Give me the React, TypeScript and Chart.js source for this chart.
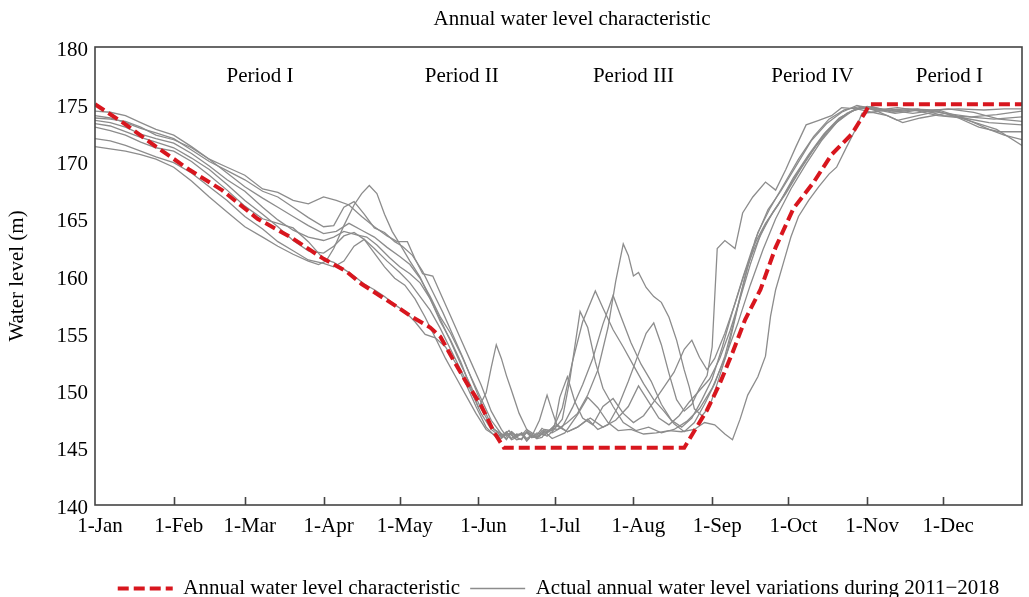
import React, { useEffect, useRef } from "react";
import { Chart, registerables } from "chart.js";

Chart.register(...registerables);

// ---------- data ----------
const monthDays = [0, 31, 59, 90, 120, 151, 181, 212, 243, 273, 304, 334];
const monthLabels = ["1-Jan", "1-Feb", "1-Mar", "1-Apr", "1-May", "1-Jun", "1-Jul", "1-Aug", "1-Sep", "1-Oct", "1-Nov", "1-Dec"];
const periodNames = ["Period I", "Period II", "Period III", "Period IV", "Period I"];
const periodDays = [65, 144.4, 212, 282.5, 336.4];
const periodLevel = 177.4;
const chartTitle = "Annual water level characteristic";
const yAxisTitle = "Water level (m)";
const legendLabels = ["Annual water level characteristic", "Actual annual water level variations during 2011\u22122018"];

const characteristic: number[][] = [
  [0, 175], [11, 173.4], [24, 171.3], [37, 169.3], [50, 167.5], [64, 165], [77, 163.4], [90, 161.5], [99, 160.4],
  [105, 159.3], [112, 158.3], [119, 157.3], [125, 156.4], [132, 155.5], [136, 154.7], [141, 152.7], [146, 150.8],
  [152, 148.7], [157, 146.4], [161, 145], [232, 145], [241, 148.3], [246, 150.6], [251, 153.3], [256, 156.2],
  [262, 158.8], [268, 162.5], [275, 165.9], [283, 168.2], [290, 170.6], [298, 172.4], [303, 174.2], [305, 175], [365, 175],
];

const y2011: number[][] = [
  [0, 174.4], [6, 174.3], [12, 174.0], [18, 173.4], [24, 172.8], [31, 172.3], [38, 171.3], [45, 170.2], [52, 169.5], [59, 168.8],
  [66, 167.6], [72, 167.3], [78, 166.6], [84, 166.3], [90, 166.9], [95, 166.6], [100, 166.2], [105, 165.2], [110, 164.3], [115, 163.5],
  [119, 163.0], [123, 163.0], [126, 161.5], [129, 160.2], [133, 160.0], [136, 158.5], [140, 156.5], [144, 154.5], [148, 152.5],
  [152, 150.5], [156, 148.2], [160, 146.6], [162, 146.0], [164, 146.4], [166, 146.0], [168, 146.3], [170, 145.8], [172, 146.1],
  [174, 145.8], [176, 146.3], [178, 146.0], [180, 146.4], [184, 147.5],
  [187, 151], [191, 156.9], [194, 155.5], [197, 152.5], [200, 150.2], [204, 148.6], [208, 147.2], [213, 146.5], [218, 146.8],
  [223, 146.3], [228, 146.6], [233, 147.3], [238, 148.4], [243, 150.2], [248, 152.8], [253, 155.8], [258, 159.2], [263, 162.3],
  [268, 165], [274, 167.6], [280, 169.8], [286, 171.8], [292, 173.4], [298, 174.4], [304, 174.8], [312, 174.5], [320, 174.6],
  [330, 174.5], [340, 174.6], [350, 174.5], [358, 174.6], [365, 174.6],
];

const y2012: number[][] = [
  [0, 174.0], [6, 173.8], [12, 173.4], [18, 172.9], [24, 172.5], [31, 172.0], [38, 171.0], [45, 170.0], [52, 169.2], [59, 168.4],
  [66, 167.4], [72, 166.9], [78, 166.0], [84, 165.1], [90, 164.3], [94, 164.4], [98, 166.0], [102, 166.5], [106, 165.4], [110, 164.2],
  [114, 163.8], [118, 163.0], [121, 162.6], [125, 161.8], [129, 160.4], [133, 158.6], [137, 156.8], [141, 154.8], [145, 152.8],
  [149, 150.6], [153, 148.4], [157, 146.6], [161, 146.1], [163, 146.5], [165, 145.9], [167, 146.2], [170, 146.3], [172, 145.9],
  [175, 146.0], [177, 146.6], [180, 146.5], [184, 148.5],
  [188, 152.5], [192, 156], [197, 158.7], [200, 157.2], [204, 155.3], [208, 153.8], [212, 152.2], [216, 150.6], [220, 149.2],
  [224, 148.2], [228, 147.1], [232, 146.4], [236, 147.2], [240, 148.8], [244, 150.6], [248, 153.0], [252, 156.4], [256, 160.0],
  [260, 163.2], [265, 165.8], [270, 167.4], [276, 169.6], [282, 171.8], [288, 173.3], [294, 174.3], [300, 174.9], [306, 174.6],
  [315, 174.2], [325, 174.5], [335, 174.2], [345, 173.9], [355, 174.1], [365, 174.4],
];

const y2013: number[][] = [
  [0, 173.8], [6, 173.7], [12, 173.5], [18, 173.0], [24, 172.3], [31, 171.9], [38, 171.2], [45, 170.2], [52, 169.0], [59, 167.8],
  [66, 166.8], [72, 166.0], [78, 165.2], [84, 164.4], [90, 163.7], [95, 163.9], [100, 164.6], [105, 164.0], [110, 163.4], [115, 162.5],
  [120, 161.7], [124, 161.0], [128, 159.8], [132, 158.2], [136, 156.4], [140, 155.0], [144, 153.2], [148, 151.2], [152, 149.3],
  [156, 147.4], [160, 146.2], [162, 145.8], [164, 146.3], [166, 145.9], [168, 145.7], [170, 146.4], [172, 146.2], [174, 145.8],
  [176, 145.9], [178, 146.5], [180, 146.3], [184, 146.8], [188, 148.5],
  [192, 150.5], [196, 152.8], [200, 155.8], [204, 158.3], [207, 156.5], [211, 154.2], [215, 152.3], [219, 150.8], [223, 148.8],
  [227, 147.4], [231, 146.8], [235, 147.6], [239, 149.2], [243, 151.0], [247, 153.8], [251, 156.9], [255, 159.8], [259, 162.5],
  [264, 164.6], [269, 166.2], [275, 168.6], [281, 170.6], [287, 172.4], [293, 173.8], [299, 174.5], [305, 174.7], [314, 174.4],
  [324, 174.6], [334, 174.0], [344, 173.9], [354, 173.7], [365, 173.9],
];

const y2014: number[][] = [
  [0, 173.6], [6, 173.4], [12, 173.0], [18, 172.4], [24, 172.0], [31, 171.6], [38, 170.7], [45, 169.6], [52, 168.4], [59, 167.4],
  [66, 166.0], [72, 164.9], [78, 164.0], [84, 163.4], [90, 163.1], [94, 163.4], [98, 163.9], [103, 163.6], [107, 163.4], [111, 162.7],
  [116, 161.6], [120, 160.8], [124, 160.2], [128, 159.4], [132, 158.0], [136, 156.2], [140, 154.3], [144, 152.3], [148, 150.4],
  [152, 148.4], [156, 146.9], [160, 146.0], [162, 146.4], [164, 145.8], [166, 146.2], [168, 146.1], [170, 146.6], [172, 145.9],
  [174, 146.3], [177, 146.1], [180, 146.7], [182, 146.6], [186, 147.2],
  [190, 148.0], [194, 149.6], [198, 151.8], [202, 155.5], [205, 159.5], [208, 162.8], [210, 161.8], [212, 160.0], [214, 160.3],
  [217, 159.0], [220, 158.2], [223, 157.7], [226, 156.4], [229, 154.4], [232, 151.8], [234, 150.3], [236, 148.4], [239, 147.8],
  [242, 148.6], [245, 150.6], [249, 153.4], [253, 157.2], [257, 160.8], [261, 163.8], [266, 166.0], [271, 167.9], [277, 170.2],
  [283, 172.2], [289, 173.7], [295, 174.5], [301, 174.8], [308, 174.5], [316, 174.7], [326, 174.4], [336, 174.6], [346, 174.3],
  [356, 173.7], [365, 173.5],
];

const y2015: number[][] = [
  [0, 173.3], [6, 173.1], [12, 172.6], [18, 172.1], [24, 171.7], [31, 171.2], [38, 170.3], [45, 169.3], [52, 168.0], [59, 166.6],
  [66, 165.4], [72, 164.3], [78, 163.1], [84, 162.2], [90, 162.0], [94, 162.6], [98, 163.5], [102, 163.8], [106, 163.2], [110, 162.4],
  [115, 161.3], [120, 160.3], [124, 159.4], [128, 158.2], [132, 157.0], [136, 155.4], [140, 153.6], [144, 151.8], [148, 150.0],
  [152, 148.0], [156, 146.6], [160, 145.9], [162, 146.3], [164, 146.1], [166, 145.7], [168, 145.8], [170, 146.4], [172, 146.0],
  [175, 147.4], [178, 149.6], [180, 148.2],
  [182, 146.9], [186, 146.4], [190, 146.8], [194, 147.5], [198, 146.6], [202, 147.0], [206, 148.6], [210, 150.8], [214, 153.2],
  [217, 155.0], [220, 155.9], [223, 154.0], [226, 151.5], [229, 149.2], [232, 148.2], [235, 148.8], [238, 150.2], [241, 151.3],
  [243, 153.8], [245, 162.4], [248, 163.1], [252, 162.4], [255, 165.5], [259, 166.9], [264, 168.2], [268, 167.5], [272, 169.3],
  [276, 171.3], [280, 173.2], [285, 173.6], [290, 174.0], [294, 174.7], [300, 174.6], [306, 174.3], [312, 174.5], [322, 174.2],
  [332, 174.5], [342, 173.8], [352, 172.8], [358, 172.3], [365, 171.9],
];

const y2016: number[][] = [
  [0, 173.0], [6, 172.7], [12, 172.3], [18, 171.7], [24, 171.2], [31, 170.9], [38, 170.0], [45, 168.8], [52, 167.5], [59, 166.1],
  [66, 165.0], [72, 164.6], [78, 164.2], [84, 163.0], [90, 161.5], [94, 161.2], [98, 160.6], [102, 160.0], [106, 159.3], [110, 158.8],
  [114, 158.2], [118, 157.5], [122, 156.9], [126, 156.0], [130, 154.9], [134, 154.6], [138, 153.8], [142, 152.4], [146, 150.6],
  [150, 148.6], [154, 146.8], [158, 145.9], [160, 146.2], [162, 145.7], [164, 146.4], [166, 146.0], [168, 146.2], [170, 145.6],
  [172, 146.1], [174, 145.9], [176, 146.5], [178, 146.3], [181, 147.0],
  [183, 149.4], [186, 151.2], [189, 149.0], [192, 147.6], [196, 147.0], [200, 148.6], [204, 149.3], [208, 148.0], [212, 147.2],
  [216, 147.8], [220, 149.0], [224, 150.3], [228, 151.6], [232, 153.6], [235, 154.4], [238, 152.9], [241, 151.8], [244, 152.8],
  [248, 155.0], [252, 157.6], [256, 160.4], [260, 162.6], [265, 164.9], [270, 166.6], [276, 168.8], [282, 170.8], [288, 172.6],
  [294, 173.9], [300, 174.6], [306, 174.8], [314, 174.3], [322, 174.5], [332, 174.0], [342, 173.8], [352, 173.4], [365, 173.2],
];

const y2017: number[][] = [
  [0, 172.0], [6, 171.8], [12, 171.4], [18, 170.9], [24, 170.4], [31, 169.9], [38, 169.0], [45, 167.8], [52, 166.6], [59, 165.2],
  [66, 164.1], [72, 163.0], [78, 162.2], [84, 161.4], [90, 161.1], [94, 160.8], [98, 161.3], [102, 162.6], [106, 163.2], [110, 162.0],
  [114, 160.8], [118, 159.8], [122, 159.2], [126, 158.0], [130, 156.4], [134, 154.6], [138, 152.8], [142, 151.2], [146, 149.6],
  [150, 148.0], [154, 146.6], [158, 146.0], [160, 145.8], [162, 146.2], [164, 145.7], [166, 145.9], [168, 146.3], [170, 145.6],
  [172, 146.1], [175, 146.0], [177, 146.4], [180, 145.8], [185, 146.3],
  [190, 147.9], [194, 149.4], [198, 148.5], [202, 147.2], [206, 146.5], [211, 146.6], [216, 146.2], [221, 146.3], [226, 146.5],
  [231, 146.4], [236, 146.6], [240, 147.2], [244, 147.0], [248, 146.2], [251, 145.7], [254, 147.5], [257, 149.6], [261, 151.2],
  [264, 153.0], [266, 156.5], [268, 158.8], [271, 161.1], [274, 163.4], [277, 165.2], [281, 166.6], [285, 167.8], [289, 168.9],
  [292, 169.5], [296, 171.3], [299, 172.6], [302, 174.2], [306, 174.3], [312, 174.0], [318, 173.4], [325, 173.8], [335, 174.2],
  [345, 173.5], [355, 172.8], [365, 171.4],
];

const y2018: number[][] = [
  [0, 171.3], [6, 171.1], [12, 170.9], [18, 170.6], [24, 170.2], [31, 169.5], [38, 168.3], [45, 166.9], [52, 165.6], [59, 164.3],
  [66, 163.4], [72, 162.6], [78, 161.9], [84, 161.3], [88, 161.0], [91, 161.3], [94, 162.4], [98, 164.4], [102, 166.2], [105, 167.2],
  [108, 167.9], [111, 167.2], [114, 165.4], [117, 163.9], [120, 162.8], [124, 161.3], [128, 159.9], [132, 158.0], [136, 156.0],
  [140, 154.4], [144, 152.5], [148, 150.2], [151, 148.5], [154, 149.8], [156, 152.0], [158, 154.0], [160, 152.8], [162, 151.3],
  [164, 150.0], [167, 148.0], [170, 146.6], [172, 146.3], [174, 146.1], [176, 146.7], [178, 146.4], [182, 147.0], [186, 146.4],
  [190, 146.8], [195, 147.6],
  [200, 146.8], [205, 147.4], [210, 148.6], [214, 150.4], [218, 149.0], [222, 147.6], [226, 147.0], [230, 147.8], [234, 149.0],
  [238, 150.0], [242, 151.0], [246, 152.8], [250, 155.2], [254, 158.0], [258, 161.0], [262, 163.6], [267, 165.6], [272, 167.2],
  [278, 169.4], [284, 171.4], [290, 173.0], [296, 174.2], [302, 174.8], [308, 174.4], [316, 173.6], [324, 174.0], [332, 174.4],
  [340, 173.8], [348, 173.0], [356, 172.6], [365, 172.6],
];

const yearNames = ["2011", "2012", "2013", "2014", "2015", "2016", "2017", "2018"];
const yearSeries = [y2011, y2012, y2013, y2014, y2015, y2016, y2017, y2018];

// ---------- style ----------
const RED = "#d8161e";
const GRAY = "#8c8c8c";
const AXIS = "#444444";
const FONT = '"Liberation Serif", "Times New Roman", serif';

const toPoints = (arr: number[][]) => arr.map(([x, y]) => ({ x, y }));

const decorPlugin = {
  id: "decor",
  afterDraw(chart: any) {
    const { ctx, chartArea: a, scales } = chart;
    ctx.save();
    ctx.strokeStyle = AXIS;
    ctx.lineWidth = 1.6;
    ctx.strokeRect(a.left, a.top, a.right - a.left, a.bottom - a.top);
    monthDays.slice(1).forEach((d) => {
      const x = Math.round(scales.x.getPixelForValue(d)) + 0.5;
      ctx.beginPath();
      ctx.moveTo(x, a.bottom);
      ctx.lineTo(x, a.bottom - 8);
      ctx.stroke();
    });
    ctx.fillStyle = "#000";
    ctx.font = `21px ${FONT}`;
    ctx.textAlign = "center";
    ctx.textBaseline = "middle";
    periodNames.forEach((n, i) => {
      ctx.fillText(n, scales.x.getPixelForValue(periodDays[i]), scales.y.getPixelForValue(periodLevel));
    });
    ctx.fillText(chartTitle, 572, 19);
    ctx.restore();
  },
};

export default function App() {
  const ref = useRef<HTMLCanvasElement | null>(null);

  useEffect(() => {
    if (!ref.current) return;
    const datasets: any[] = [
      {
        label: legendLabels[0],
        data: toPoints(characteristic),
        borderColor: RED,
        backgroundColor: RED,
        borderWidth: 4,
        borderDash: [11, 5],
        pointRadius: 0,
        tension: 0,
      },
      ...yearSeries.map((s, i) => ({
        label: yearNames[i],
        data: toPoints(s),
        borderColor: GRAY,
        backgroundColor: GRAY,
        borderWidth: 1.3,
        pointRadius: 0,
        tension: 0,
      })),
    ];

    const chart = new Chart(ref.current, {
      type: "line",
      data: { datasets },
      plugins: [decorPlugin],
      options: {
        animation: false,
        responsive: false,
        devicePixelRatio: 1,
        layout: { padding: { top: 47, right: 7, left: 0, bottom: 0 } },
        font: { family: FONT, size: 21 },
        color: "#000",
        plugins: {
          title: { display: false },
          tooltip: { enabled: false },
          legend: {
            display: true,
            position: "bottom",
            fullSize: false,
            labels: {
              usePointStyle: true,
              pointStyleWidth: 55,
              padding: 10,
              color: "#000",
              font: { family: FONT, size: 21 },
              generateLabels: () => [
                {
                  text: legendLabels[0],
                  strokeStyle: RED,
                  fillStyle: RED,
                  lineWidth: 4,
                  lineDash: [11, 5],
                  pointStyle: "line",
                  hidden: false,
                  datasetIndex: 0,
                },
                {
                  text: legendLabels[1],
                  strokeStyle: GRAY,
                  fillStyle: GRAY,
                  lineWidth: 1.3,
                  lineDash: [],
                  pointStyle: "line",
                  hidden: false,
                  datasetIndex: 1,
                },
              ],
            },
          },
        },
        scales: {
          x: {
            type: "linear",
            min: 0,
            max: 365,
            grid: { display: false, drawTicks: false },
            border: { display: false },
            afterBuildTicks: (scale: any) => {
              scale.ticks = monthDays.map((v) => ({ value: v }));
            },
            afterFit: (scale: any) => {
              scale.height = 63;
            },
            ticks: {
              autoSkip: false,
              maxRotation: 0,
              padding: 9,
              labelOffset: 5,
              color: "#000",
              font: { family: FONT, size: 21 },
              callback: (v: any) => {
                const i = monthDays.indexOf(Number(v));
                return i >= 0 ? monthLabels[i] : "";
              },
            },
          },
          y: {
            min: 140,
            max: 180,
            grid: { display: false, drawTicks: false },
            border: { display: false },
            afterFit: (scale: any) => {
              scale.width = 95;
            },
            ticks: {
              stepSize: 5,
              padding: 7,
              labelOffset: 3,
              color: "#000",
              font: { family: FONT, size: 21 },
            },
            title: {
              display: true,
              text: yAxisTitle,
              color: "#000",
              padding: { top: 5, bottom: 0 },
              font: { family: FONT, size: 21 },
            },
          },
        },
      },
    });
    return () => chart.destroy();
  }, []);

  return (
    <div
      style={{
        position: "fixed",
        left: 0,
        top: 0,
        width: 1029,
        height: 597,
        overflow: "hidden",
        background: "#fff",
      }}
    >
      <canvas ref={ref} width={1029} height={609} style={{ display: "block" }} />
    </div>
  );
}
